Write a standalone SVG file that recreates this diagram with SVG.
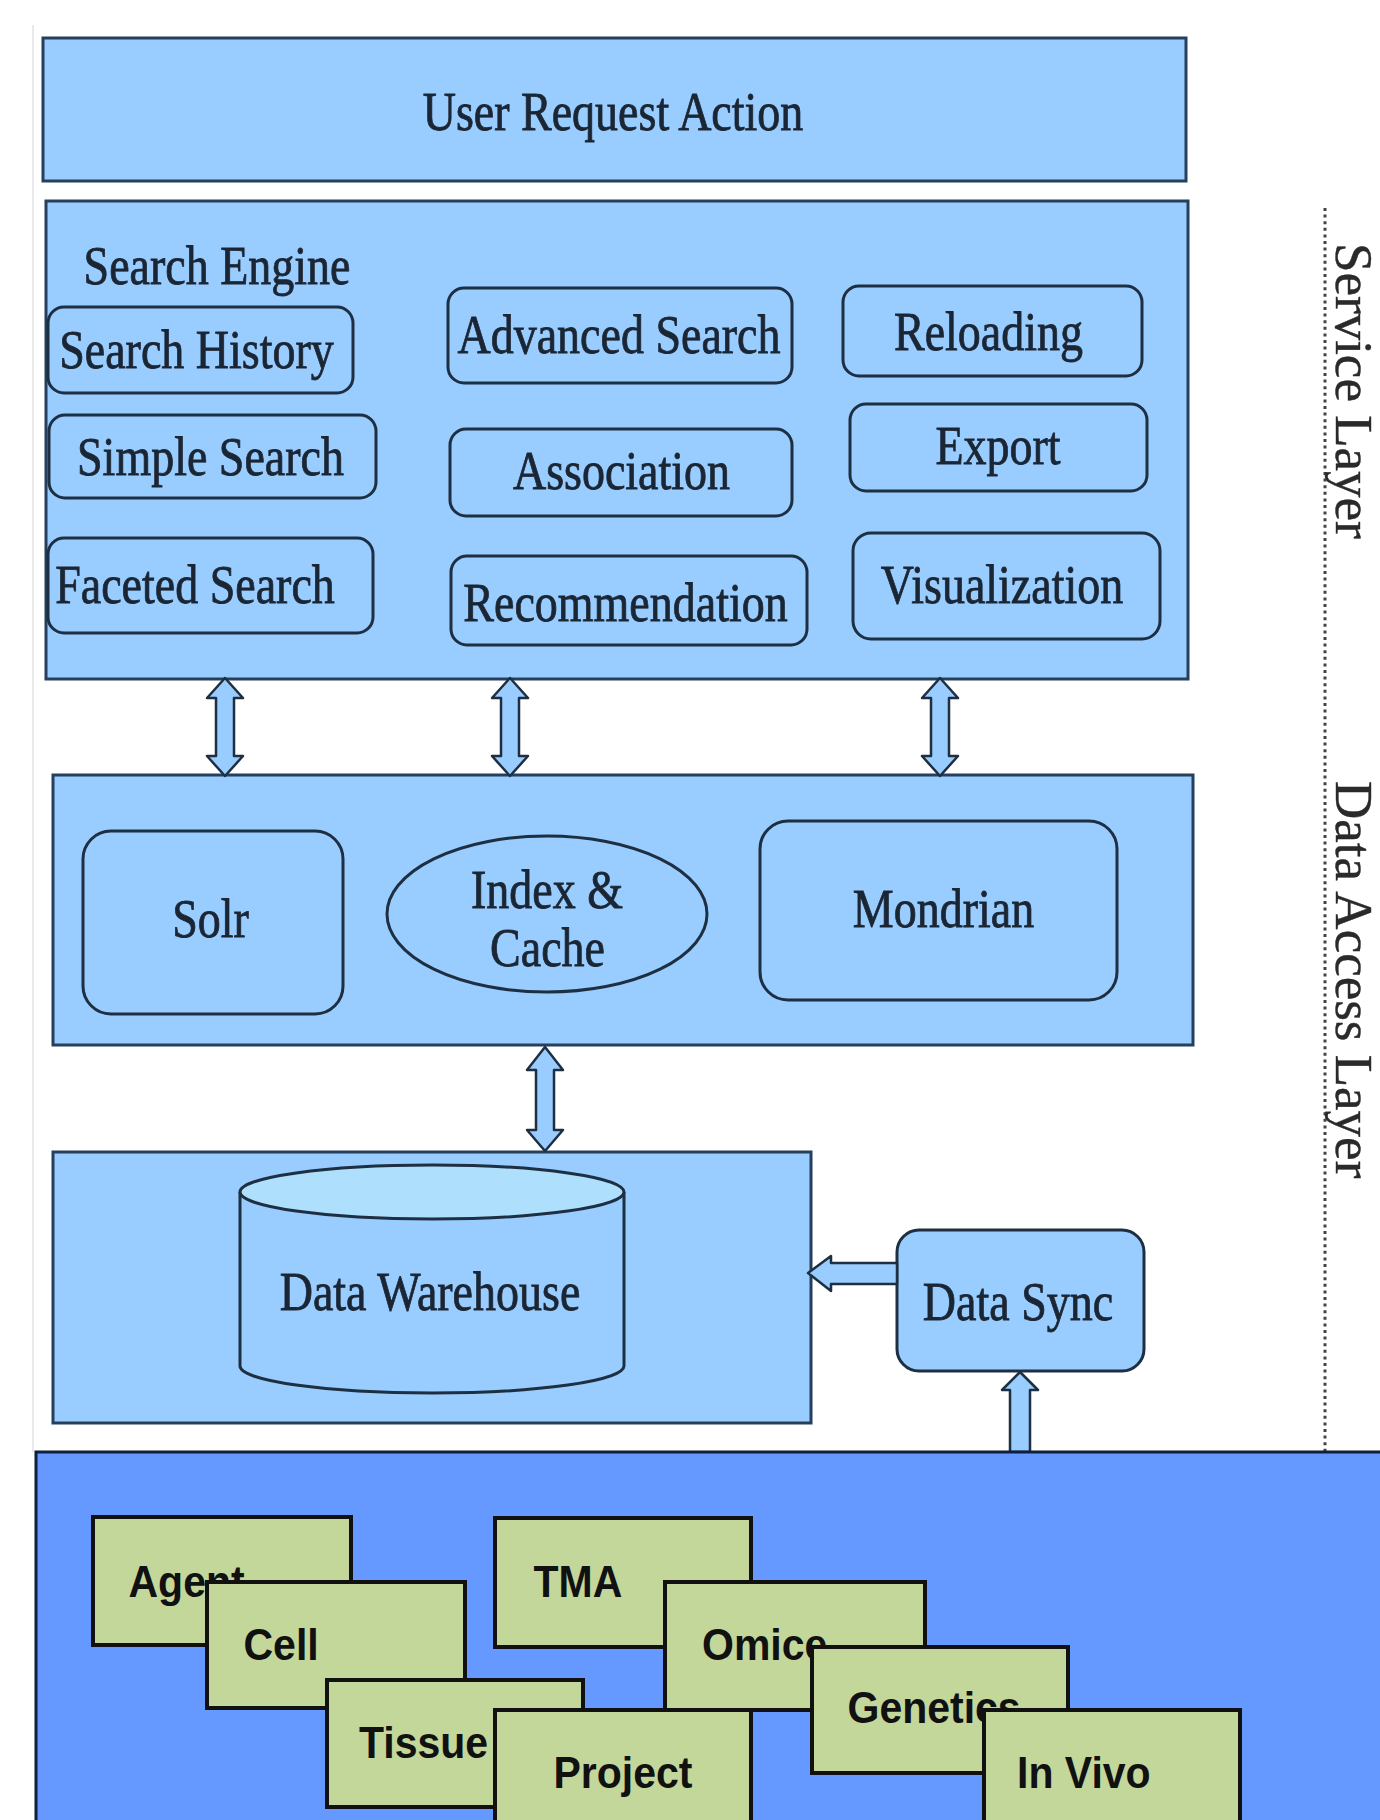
<svg xmlns="http://www.w3.org/2000/svg" width="1380" height="1820" viewBox="0 0 1380 1820">
<style>
.outer{fill:#99ccff;stroke:#25405c;stroke-width:3}
.inner{fill:#99ccff;stroke:#1e2f42;stroke-width:3}
.lbl{font-family:"Liberation Serif","Times New Roman",serif;font-size:46px;fill:#1b2634;stroke:#1b2634;stroke-width:0.7;text-anchor:middle}
.side{font-family:"Liberation Serif","Times New Roman",serif;font-size:53px;fill:#2a2a2a;stroke:#2a2a2a;stroke-width:0.4}
.arrow{fill:#99ccff;stroke:#1e2f42;stroke-width:2.5;stroke-linejoin:round}
.green{fill:#c4d79b;stroke:#111;stroke-width:4}
.glbl{font-family:"Liberation Sans",Arial,sans-serif;font-weight:bold;font-size:41px;fill:#111}
</style>
<rect width="1380" height="1820" fill="#ffffff"/>
<line x1="33" y1="25" x2="33" y2="1452" stroke="#e2e2e2" stroke-width="1.5"/>

<g id="user-request">
<rect class="outer" x="43" y="38" width="1143" height="143"/>
<text class="lbl" transform="translate(613,129.5) scale(1,1.2)">User Request Action</text>
</g>

<g id="search-engine">
<rect class="outer" x="46" y="201" width="1142" height="478"/>
<text class="lbl" transform="translate(217,283.5) scale(1,1.2)">Search Engine</text>
</g>
<g id="search-history"><rect class="inner" x="48" y="307" width="305" height="86" rx="16"/><text class="lbl" transform="translate(196.5,368) scale(1,1.2)">Search History</text></g>
<g id="simple-search"><rect class="inner" x="49" y="415" width="327" height="83" rx="16"/><text class="lbl" transform="translate(210.5,475) scale(1,1.2)">Simple Search</text></g>
<g id="faceted-search"><rect class="inner" x="48" y="538" width="325" height="95" rx="16"/><text class="lbl" transform="translate(195,603) scale(1,1.2)">Faceted Search</text></g>
<g id="advanced-search"><rect class="inner" x="448" y="288" width="344" height="95" rx="16"/><text class="lbl" transform="translate(619,353) scale(1,1.2)">Advanced Search</text></g>
<g id="association"><rect class="inner" x="450" y="429" width="342" height="87" rx="16"/><text class="lbl" transform="translate(621.5,489) scale(1,1.2)">Association</text></g>
<g id="recommendation"><rect class="inner" x="451" y="556" width="356" height="89" rx="16"/><text class="lbl" transform="translate(625.5,620.5) scale(1,1.2)">Recommendation</text></g>
<g id="reloading"><rect class="inner" x="843" y="286" width="299" height="90" rx="16"/><text class="lbl" transform="translate(988.5,350) scale(1,1.2)">Reloading</text></g>
<g id="export"><rect class="inner" x="850" y="404" width="297" height="87" rx="16"/><text class="lbl" transform="translate(998,464) scale(1,1.2)">Export</text></g>
<g id="visualization"><rect class="inner" x="853" y="533" width="307" height="106" rx="18"/><text class="lbl" transform="translate(1002,603) scale(1,1.2)">Visualization</text></g>

<g id="data-access">
<rect class="outer" x="53" y="775" width="1140" height="270"/>
</g>
<g id="solr"><rect class="inner" x="83" y="831" width="260" height="183" rx="28"/><text class="lbl" transform="translate(210.5,937) scale(1,1.2)">Solr</text></g>
<g id="index-cache"><ellipse class="inner" cx="547" cy="914" rx="160" ry="78"/><text class="lbl" transform="translate(547,908) scale(1,1.2)">Index &amp;</text><text class="lbl" transform="translate(547.5,966) scale(1,1.2)">Cache</text></g>
<g id="mondrian"><rect class="inner" x="760" y="821" width="357" height="179" rx="28"/><text class="lbl" transform="translate(943.5,927) scale(1,1.2)">Mondrian</text></g>

<g id="data-warehouse-layer">
<rect class="outer" x="53" y="1152" width="758" height="271"/>
</g>
<g id="data-warehouse">
<path class="inner" d="M240,1192 L240,1366 A192,27 0 0 0 624,1366 L624,1192"/>
<ellipse cx="432" cy="1192" rx="192" ry="27" fill="#aee0fd" stroke="#1e2f42" stroke-width="3"/>
<text class="lbl" transform="translate(430,1310) scale(1,1.2)">Data Warehouse</text>
</g>
<g id="data-sync"><rect class="inner" x="897" y="1230" width="247" height="141" rx="22"/><text class="lbl" transform="translate(1018,1320) scale(1,1.2)">Data Sync</text></g>

<g id="connectors">
<path class="arrow" d="M225,678 L243,698 L234,698 L234,756 L243,756 L225,776 L207,756 L216,756 L216,698 L207,698 Z"/>
<path class="arrow" d="M510,678 L528,698 L519,698 L519,756 L528,756 L510,776 L492,756 L501,756 L501,698 L492,698 Z"/>
<path class="arrow" d="M940,678 L958,698 L949,698 L949,756 L958,756 L940,776 L922,756 L931,756 L931,698 L922,698 Z"/>
<path class="arrow" d="M545,1047 L563,1070 L554,1070 L554,1130 L563,1130 L545,1151 L527,1130 L536,1130 L536,1070 L527,1070 Z"/>
<path class="arrow" d="M808,1273 L831,1256 L831,1263 L897,1263 L897,1284 L831,1284 L831,1291 Z"/>
<path class="arrow" d="M1020,1372 L1038,1390 L1030,1390 L1030,1452 L1010,1452 L1010,1390 L1002,1390 Z"/>
</g>

<line x1="1325" y1="208" x2="1325" y2="1460" stroke="#444" stroke-width="3" stroke-dasharray="3 3.6"/>
<text class="side" transform="translate(1336,243) rotate(90)">Service Layer</text>
<text class="side" transform="translate(1336,781) rotate(90)">Data Access Layer</text>

<g id="data-layer">
<rect x="36" y="1452" width="1360" height="400" fill="#6699ff" stroke="#0f1f3f" stroke-width="3"/>
</g>
<g id="agent"><rect class="green" x="93" y="1517" width="258" height="128"/><text class="glbl" transform="translate(128.5,1597) scale(1,1.1)">Agent</text></g>
<g id="cell"><rect class="green" x="207" y="1582" width="258" height="126"/><text class="glbl" transform="translate(243.5,1660) scale(1,1.1)">Cell</text></g>
<g id="tissue"><rect class="green" x="327" y="1680" width="256" height="127"/><text class="glbl" transform="translate(359,1758) scale(1,1.1)">Tissue</text></g>
<g id="tma"><rect class="green" x="495" y="1518" width="256" height="129"/><text class="glbl" transform="translate(533.5,1597) scale(1,1.1)">TMA</text></g>
<g id="omice"><rect class="green" x="665" y="1582" width="260" height="128"/><text class="glbl" transform="translate(702,1660) scale(1,1.1)">Omice</text></g>
<g id="project"><rect class="green" x="495" y="1710" width="256" height="130"/><text class="glbl" transform="translate(553.5,1788) scale(1,1.1)">Project</text></g>
<g id="genetics"><rect class="green" x="812" y="1647" width="256" height="126"/><text class="glbl" transform="translate(847.5,1723) scale(1,1.1)">Genetics</text></g>
<g id="in-vivo"><rect class="green" x="984" y="1710" width="256" height="130"/><text class="glbl" transform="translate(1017,1788) scale(1,1.1)">In Vivo</text></g>
</svg>
